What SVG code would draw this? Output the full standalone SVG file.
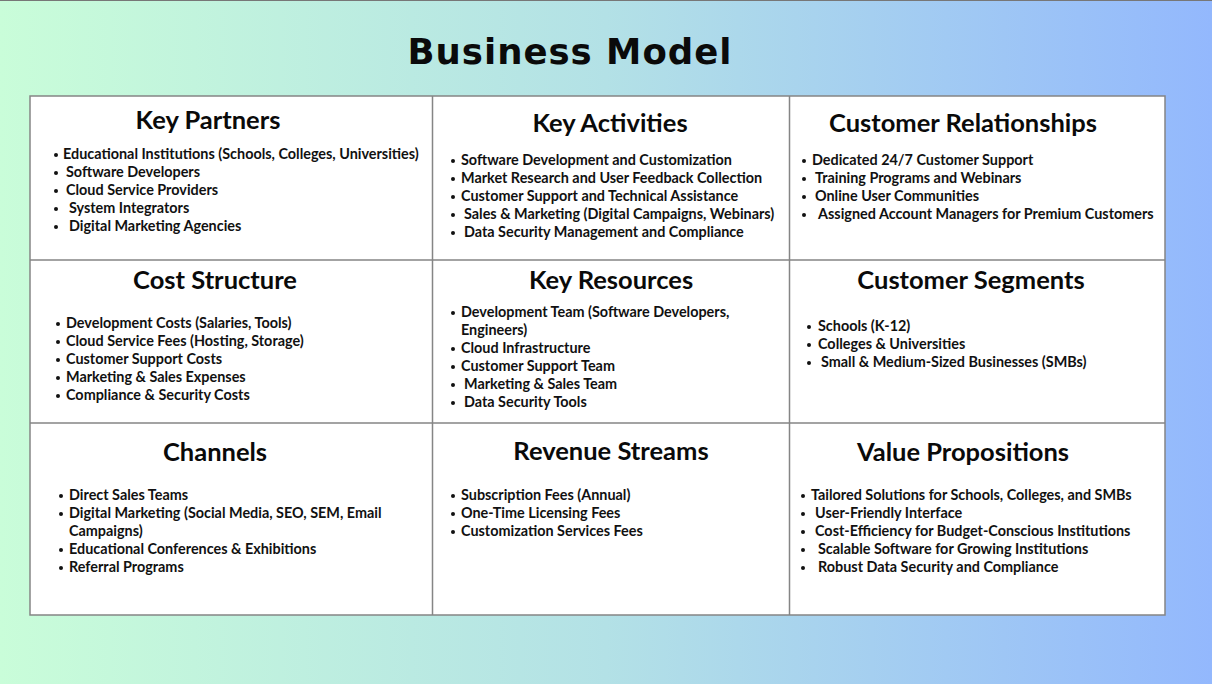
<svg xmlns="http://www.w3.org/2000/svg" width="1212" height="684" viewBox="0 0 1212 684">
  <defs>
    <linearGradient id="bg" x1="0" y1="0" x2="1" y2="0">
      <stop offset="0" stop-color="#c9fdd9"/>
      <stop offset="0.5" stop-color="#b3e1e6"/>
      <stop offset="1" stop-color="#93b8fd"/>
    </linearGradient>
    <style>
      .title { font-family: "DejaVu Sans", sans-serif; font-weight: 700; font-size: 35.5px; letter-spacing: 1px; fill: #0a0a0a; text-anchor: middle; }
      .head { font-family: Lato, "Noto Sans", sans-serif; font-weight: 700; font-size: 25.5px; fill: #0a0a0a; text-anchor: middle; }
      .item { font-family: Lato, "Noto Sans", sans-serif; font-weight: 700; font-size: 14.4px; fill: #111111; }
      .cell { fill: #ffffff; }
      .grid { fill: none; stroke: #858585; stroke-width: 1.5; }
      .dot { fill: #111111; }
    </style>
  </defs>

  <!-- backdrop -->
  <rect x="0" y="0" width="1212" height="684" fill="url(#bg)"/>
  <line x1="0" y1="0.5" x2="1212" y2="0.5" stroke="#777777" stroke-width="1"/>

  <text class="title" x="570" y="64">Business Model</text>

  <!-- canvas board -->
  <rect class="cell" x="30" y="96" width="1135" height="519"/>
  <g id="grid-lines">
    <rect class="grid" x="30" y="96" width="1135" height="519"/>
    <line class="grid" x1="30" y1="260" x2="1165" y2="260"/>
    <line class="grid" x1="30" y1="423" x2="1165" y2="423"/>
    <line class="grid" x1="432.5" y1="96" x2="432.5" y2="615"/>
    <line class="grid" x1="789.5" y1="96" x2="789.5" y2="615"/>
  </g>

  <g id="key-partners">
    <text class="head" x="208" y="129">Key Partners</text>
    <circle class="dot" cx="56" cy="155" r="2"/>
    <circle class="dot" cx="56" cy="173" r="2"/>
    <circle class="dot" cx="56" cy="191" r="2"/>
    <circle class="dot" cx="56" cy="209" r="2"/>
    <circle class="dot" cx="56" cy="227" r="2"/>
    <text class="item" x="63" y="159">Educational Institutions (Schools, Colleges, Universities)</text>
    <text class="item" x="66" y="177">Software Developers</text>
    <text class="item" x="66" y="195">Cloud Service Providers</text>
    <text class="item" x="69" y="213">System Integrators</text>
    <text class="item" x="69" y="231">Digital Marketing Agencies</text>
  </g>

  <g id="key-activities">
    <text class="head" x="610" y="132">Key Activities</text>
    <circle class="dot" cx="453" cy="161" r="2"/>
    <circle class="dot" cx="453" cy="179" r="2"/>
    <circle class="dot" cx="453" cy="197" r="2"/>
    <circle class="dot" cx="453" cy="215" r="2"/>
    <circle class="dot" cx="453" cy="233" r="2"/>
    <text class="item" x="461" y="165">Software Development and Customization</text>
    <text class="item" x="461" y="183">Market Research and User Feedback Collection</text>
    <text class="item" x="461" y="201">Customer Support and Technical Assistance</text>
    <text class="item" x="464" y="219">Sales &amp; Marketing (Digital Campaigns, Webinars)</text>
    <text class="item" x="464" y="237">Data Security Management and Compliance</text>
  </g>

  <g id="customer-relationships">
    <text class="head" x="963" y="132">Customer Relationships</text>
    <circle class="dot" cx="804" cy="161" r="2"/>
    <circle class="dot" cx="804" cy="179" r="2"/>
    <circle class="dot" cx="804" cy="197" r="2"/>
    <circle class="dot" cx="804" cy="215" r="2"/>
    <text class="item" x="812" y="165">Dedicated 24/7 Customer Support</text>
    <text class="item" x="815" y="183">Training Programs and Webinars</text>
    <text class="item" x="815" y="201">Online User Communities</text>
    <text class="item" x="818" y="219">Assigned Account Managers for Premium Customers</text>
  </g>

  <g id="cost-structure">
    <text class="head" x="215" y="289">Cost Structure</text>
    <circle class="dot" cx="58" cy="324" r="2"/>
    <circle class="dot" cx="58" cy="342" r="2"/>
    <circle class="dot" cx="58" cy="360" r="2"/>
    <circle class="dot" cx="58" cy="378" r="2"/>
    <circle class="dot" cx="58" cy="396" r="2"/>
    <text class="item" x="66" y="328">Development Costs (Salaries, Tools)</text>
    <text class="item" x="66" y="346">Cloud Service Fees (Hosting, Storage)</text>
    <text class="item" x="66" y="364">Customer Support Costs</text>
    <text class="item" x="66" y="382">Marketing &amp; Sales Expenses</text>
    <text class="item" x="66" y="400">Compliance &amp; Security Costs</text>
  </g>

  <g id="key-resources">
    <text class="head" x="611" y="289">Key Resources</text>
    <circle class="dot" cx="453" cy="313" r="2"/>
    <circle class="dot" cx="453" cy="349" r="2"/>
    <circle class="dot" cx="453" cy="367" r="2"/>
    <circle class="dot" cx="453" cy="385" r="2"/>
    <circle class="dot" cx="453" cy="403" r="2"/>
    <text class="item" x="461" y="317">Development Team (Software Developers,</text>
    <text class="item" x="461" y="335">Engineers)</text>
    <text class="item" x="461" y="353">Cloud Infrastructure</text>
    <text class="item" x="461" y="371">Customer Support Team</text>
    <text class="item" x="464" y="389">Marketing &amp; Sales Team</text>
    <text class="item" x="464" y="407">Data Security Tools</text>
  </g>

  <g id="customer-segments">
    <text class="head" x="971" y="289">Customer Segments</text>
    <circle class="dot" cx="809" cy="327" r="2"/>
    <circle class="dot" cx="809" cy="345" r="2"/>
    <circle class="dot" cx="809" cy="363" r="2"/>
    <text class="item" x="818" y="331">Schools (K-12)</text>
    <text class="item" x="818" y="349">Colleges &amp; Universities</text>
    <text class="item" x="821" y="367">Small &amp; Medium-Sized Businesses (SMBs)</text>
  </g>

  <g id="channels">
    <text class="head" x="215" y="461">Channels</text>
    <circle class="dot" cx="61" cy="496" r="2"/>
    <circle class="dot" cx="61" cy="514" r="2"/>
    <circle class="dot" cx="61" cy="550" r="2"/>
    <circle class="dot" cx="61" cy="568" r="2"/>
    <text class="item" x="69" y="500">Direct Sales Teams</text>
    <text class="item" x="69" y="518">Digital Marketing (Social Media, SEO, SEM, Email</text>
    <text class="item" x="69" y="536">Campaigns)</text>
    <text class="item" x="69" y="554">Educational Conferences &amp; Exhibitions</text>
    <text class="item" x="69" y="572">Referral Programs</text>
  </g>

  <g id="revenue-streams">
    <text class="head" x="611" y="460">Revenue Streams</text>
    <circle class="dot" cx="453" cy="496" r="2"/>
    <circle class="dot" cx="453" cy="514" r="2"/>
    <circle class="dot" cx="453" cy="532" r="2"/>
    <text class="item" x="461" y="500">Subscription Fees (Annual)</text>
    <text class="item" x="461" y="518">One-Time Licensing Fees</text>
    <text class="item" x="461" y="536">Customization Services Fees</text>
  </g>

  <g id="value-propositions">
    <text class="head" x="963" y="461">Value Propositions</text>
    <circle class="dot" cx="803" cy="496" r="2"/>
    <circle class="dot" cx="803" cy="514" r="2"/>
    <circle class="dot" cx="803" cy="532" r="2"/>
    <circle class="dot" cx="803" cy="550" r="2"/>
    <circle class="dot" cx="803" cy="568" r="2"/>
    <text class="item" x="811" y="500">Tailored Solutions for Schools, Colleges, and SMBs</text>
    <text class="item" x="815" y="518">User-Friendly Interface</text>
    <text class="item" x="815" y="536">Cost-Efficiency for Budget-Conscious Institutions</text>
    <text class="item" x="818" y="554">Scalable Software for Growing Institutions</text>
    <text class="item" x="818" y="572">Robust Data Security and Compliance</text>
  </g>
</svg>
